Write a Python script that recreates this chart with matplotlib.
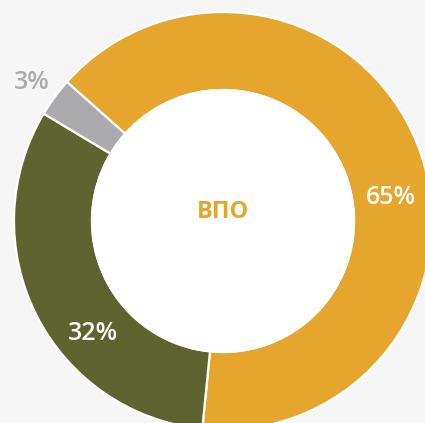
import matplotlib
matplotlib.use("Agg")
import matplotlib.pyplot as plt
from matplotlib.patches import Circle

# Доли категорий (по часовой стрелке от верхнего левого края)
categories = ["ВПО-основная", "ВПО-вторая", "ВПО-прочие"]
shares = [65, 32, 3]
share_labels = ["65%", "32%", "3%"]
colors = ["#E6A52D", "#5F632F", "#ABABAE"]

BG = "#F6F6F6"

fig = plt.figure(figsize=(4.25, 4.23), dpi=100, facecolor=BG)
ax = fig.add_axes([0, 0, 1, 1])
ax.set_facecolor(BG)

cx, cy = 223, 202
r_out, ring = 209, 78

wedges, _ = ax.pie(
    shares,
    colors=colors,
    startangle=138.3,
    counterclock=False,
    center=(cx, cy),
    radius=r_out,
    wedgeprops=dict(width=ring, edgecolor="white", linewidth=1.6),
    frame=True,
)
# белая середина кольца
ax.add_patch(Circle((cx, cy), r_out - ring, facecolor="white", edgecolor="white", lw=1.6, zorder=3))

ax.set_xlim(0, 425)
ax.set_ylim(0, 423)
ax.set_aspect("equal")
ax.axis("off")

font = dict(family=["Open Sans", "DejaVu Sans"], fontsize=18, weight="semibold")
ax.text(391, 226, share_labels[0], color="white", ha="center", va="center", **font)
ax.text(93, 90, share_labels[1], color="white", ha="center", va="center", **font)
ax.text(32, 341, share_labels[2], color="#ABABAE", ha="center", va="center", **font)
ax.text(cx, 211, "ВПО", color="#E6A52D", ha="center", va="center", zorder=4,
        family=["Open Sans", "DejaVu Sans"], fontsize=17, weight="bold")

fig.savefig("out.png", dpi=100, facecolor=BG)
